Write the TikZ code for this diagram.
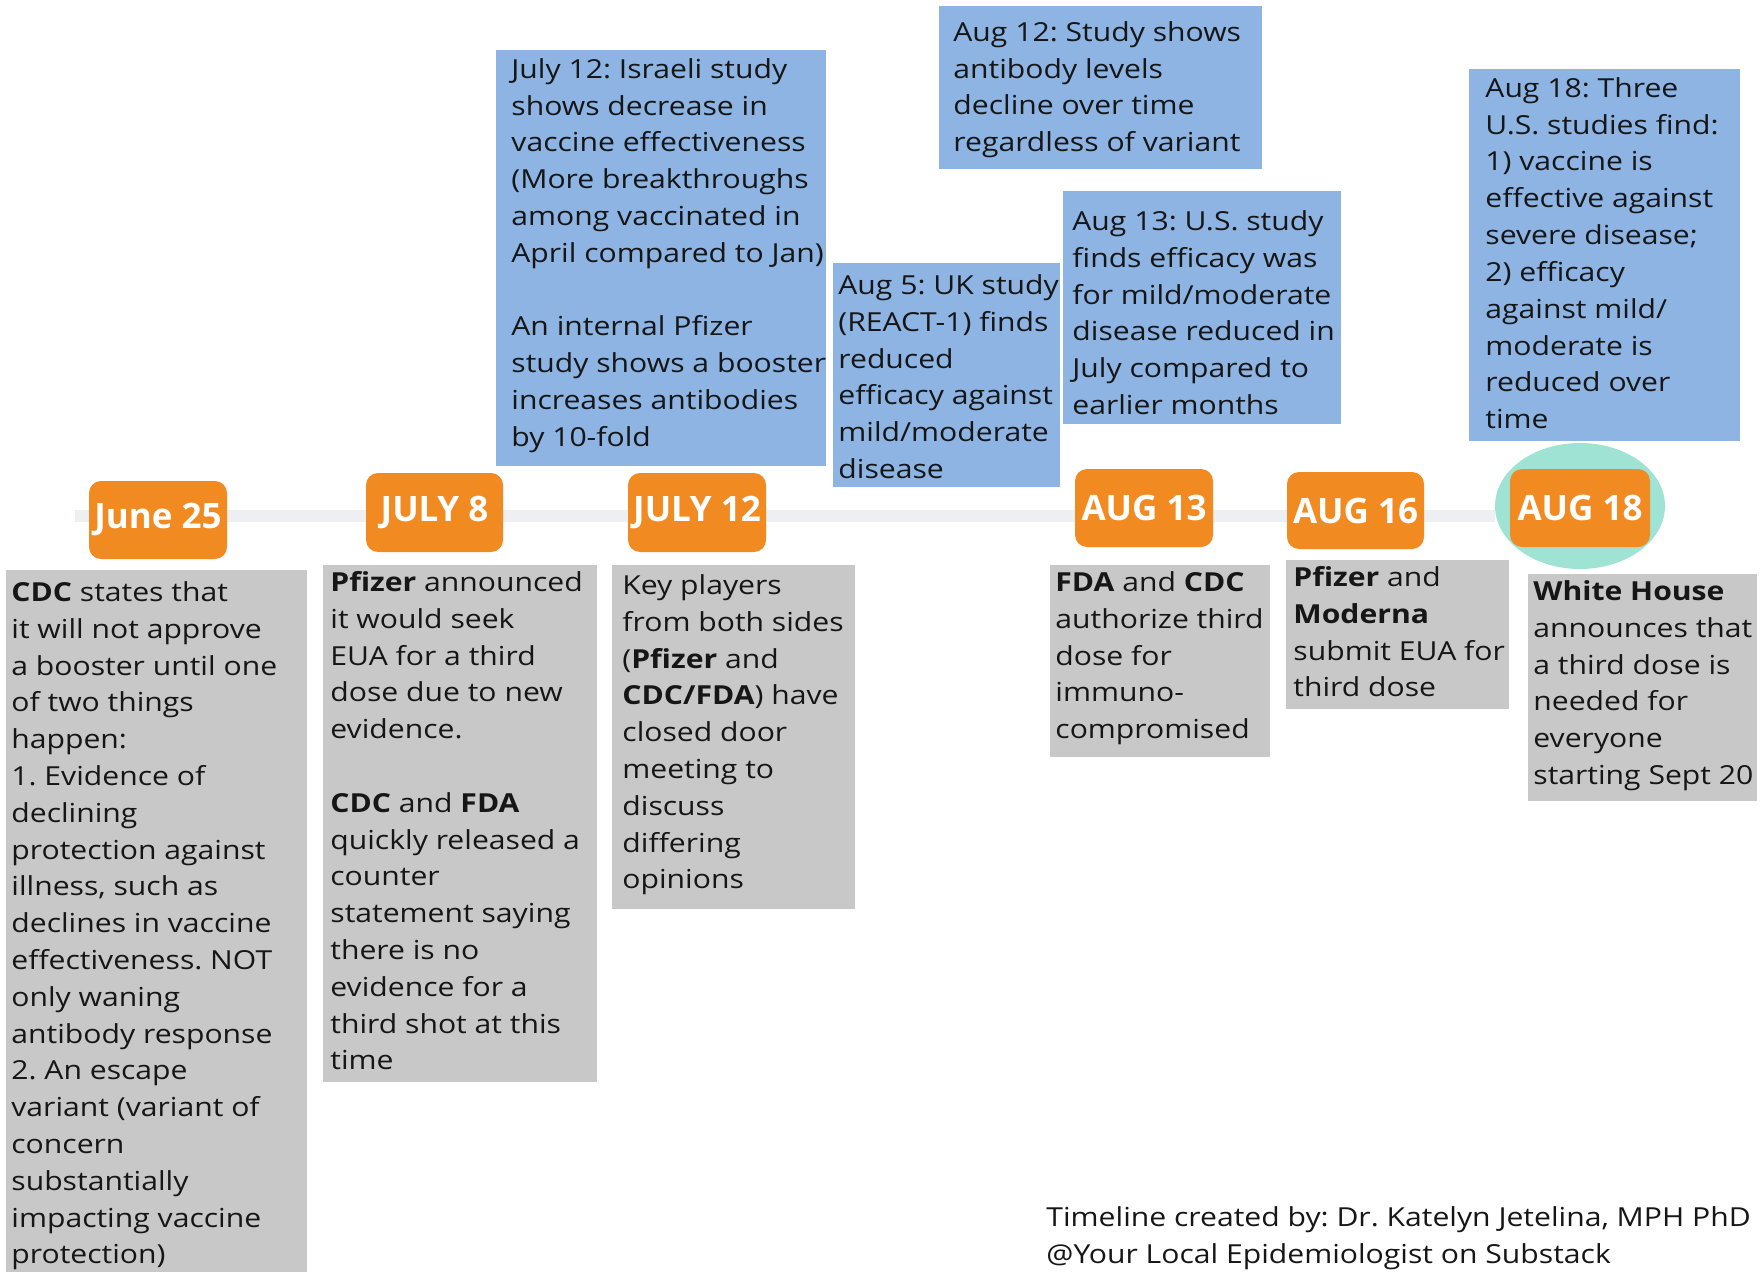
\documentclass[tikz,border=0pt]{standalone}
\usepackage{fontspec}
\setmainfont{Open Sans}[FakeStretch=1.15]
\newfontfamily\datefont{Open Sans}
\usetikzlibrary{fit,shapes.geometric}
\definecolor{orng}{RGB}{242,138,34}
\definecolor{bluefill}{RGB}{141,180,227}
\definecolor{grayfill}{RGB}{200,200,200}
\definecolor{tealfill}{RGB}{158,227,211}
\definecolor{linecol}{RGB}{238,239,242}
\definecolor{txtcol}{RGB}{22,22,22}
\newcommand{\fl}{\rule{0pt}{10pt}}
\frenchspacing
\begin{document}
\begin{tikzpicture}[x=0.5pt,y=-0.5pt,
  bluebox/.style={fill=bluefill, inner sep=0pt},
  graybox/.style={fill=grayfill, inner sep=0pt},
  txt/.style={anchor=north west, inner sep=0pt, align=left, text=txtcol, font=\fontsize{13.1}{18.4}\selectfont\frenchspacing},
  datebox/.style={fill=orng, rounded corners=6pt, inner sep=0pt},
  datetxt/.style={inner sep=0pt, text=white, font=\datefont\bfseries\fontsize{17.5}{20}\selectfont},
]
\useasboundingbox (0,0) rectangle (1764,1272);
% timeline
\coordinate (tl0) at (75,516);
\coordinate (tl1) at (1495,516);
\draw[line width=6pt, linecol] (tl0) -- (tl1);
% highlight
\node[ellipse, fill=tealfill, inner sep=0pt, minimum width=85pt, minimum height=63pt] (hl) at (1580,506) {};
% date boxes
\node[datebox, fit={(89,481) (227,559)}] (d1) {};
\node[datebox, fit={(366,473) (503,552)}] (d2) {};
\node[datebox, fit={(628,473) (766,552)}] (d3) {};
\node[datebox, fit={(1075,469) (1213,547)}] (d4) {};
\node[datebox, fit={(1287,472) (1424,549)}] (d5) {};
\node[datebox, fit={(1510,469) (1650,547)}] (d6) {};
\node[datetxt] (d1t) at (d1.center) {June 25};
\node[datetxt] (d2t) at (d2.center) {JULY 8};
\node[datetxt] (d3t) at (d3.center) {JULY 12};
\node[datetxt] (d4t) at (d4.center) {AUG 13};
\node[datetxt] (d5t) at (d5.center) {AUG 16};
\node[datetxt] (d6t) at (d6.center) {AUG 18};
% blue boxes
\node[bluebox, fit={(496,50) (826,466)}] (b1) {};
\node[bluebox, fit={(833,263) (1060,487)}] (b2) {};
\node[bluebox, fit={(939,6) (1262,169)}] (b3) {};
\node[bluebox, fit={(1063,191) (1341,424)}] (b4) {};
\node[bluebox, fit={(1469,69) (1740,441)}] (b5) {};
\node[txt] (b1t) at (511,58) {\fl July 12: Israeli study\\ shows decrease in\\ vaccine effectiveness\\ (More breakthroughs\\ among vaccinated in\\ April compared to Jan)\\[18.4pt] An internal Pfizer\\ study shows a booster\\ increases antibodies\\ by 10-fold};
\node[txt] (b2t) at (838,274) {\fl Aug 5: UK study\\ (REACT-1) finds\\ reduced\\ efficacy against\\ mild/moderate\\ disease};
\node[txt] (b3t) at (953,21) {\fl Aug 12: Study shows\\ antibody levels\\ decline over time\\ regardless of variant};
\node[txt] (b4t) at (1072,210) {\fl Aug 13: U.S. study\\ finds efficacy was\\ for mild/moderate\\ disease reduced in\\ July compared to\\ earlier months};
\node[txt] (b5t) at (1485,77) {\fl Aug 18: Three\\ U.S. studies find:\\ 1) vaccine is\\ effective against\\ severe disease;\\ 2) efficacy\\ against mild/\\ moderate is\\ reduced over\\ time};
% gray boxes
\node[graybox, fit={(6,570) (307,1280)}] (g1) {};
\node[graybox, fit={(323,565) (597,1082)}] (g2) {};
\node[graybox, fit={(612,565) (855,909)}] (g3) {};
\node[graybox, fit={(1050,565) (1270,757)}] (g4) {};
\node[graybox, fit={(1286,560) (1509,709)}] (g5) {};
\node[graybox, fit={(1528,574) (1757,801)}] (g6) {};
\node[txt] (g1t) at (11,581) {\fl\textbf{CDC} states that\\ it will not approve\\ a booster until one\\ of two things\\ happen:\\ 1. Evidence of\\ declining\\ protection against\\ illness, such as\\ declines in vaccine\\ effectiveness. NOT\\ only waning\\ antibody response\\ 2. An escape\\ variant (variant of\\ concern\\ substantially\\ impacting vaccine\\ protection)};
\node[txt] (g2t) at (330,571) {\fl\textbf{Pfizer} announced\\ it would seek\\ EUA for a third\\ dose due to new\\ evidence.\\[18.4pt] \textbf{CDC} and \textbf{FDA}\\ quickly released a\\ counter\\ statement saying\\ there is no\\ evidence for a\\ third shot at this\\ time};
\node[txt] (g3t) at (622,574) {\fl Key players\\ from both sides\\ (\textbf{Pfizer} and\\ \textbf{CDC/FDA}) have\\ closed door\\ meeting to\\ discuss\\ differing\\ opinions};
\node[txt] (g4t) at (1055,571) {\fl\textbf{FDA} and \textbf{CDC}\\ authorize third\\ dose for\\ immuno-\\ compromised};
\node[txt] (g5t) at (1293,566) {\fl\textbf{Pfizer} and\\ \textbf{Moderna}\\ submit EUA for\\ third dose};
\node[txt] (g6t) at (1533,580) {\fl\textbf{White House}\\ announces that\\ a third dose is\\ needed for\\ everyone\\ starting Sept 20};
% footer
\node[txt] (foot) at (1046,1206) {\fl Timeline created by: Dr. Katelyn Jetelina, MPH PhD\\ @Your Local Epidemiologist on Substack};
\end{tikzpicture}
\end{document}
